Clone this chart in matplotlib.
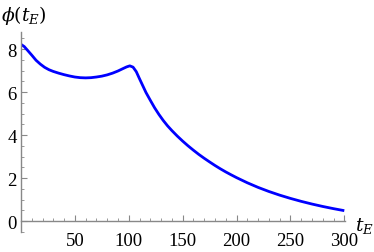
import matplotlib.pyplot as plt
from matplotlib.ticker import MultipleLocator

# values
t_E = [0, 3, 6, 10, 14, 18, 22, 26, 30, 35, 40, 45, 50, 55, 60, 65, 70, 75, 80,
       85, 90, 95, 98, 101, 104, 107, 110, 113, 116, 120, 124, 128, 132, 136,
       140, 145, 150, 155, 160, 165, 170, 175, 180, 185, 190, 195, 200, 210,
       220, 230, 240, 250, 260, 270, 280, 290, 300]
phi = [8.22, 8.12, 7.95, 7.72, 7.48, 7.3, 7.15, 7.04, 6.96, 6.88, 6.81, 6.75,
       6.7, 6.67, 6.66, 6.67, 6.7, 6.74, 6.8, 6.88, 6.98, 7.1, 7.17, 7.22,
       7.16, 6.95, 6.62, 6.3, 5.98, 5.62, 5.27, 4.96, 4.68, 4.43, 4.21, 3.955,
       3.72, 3.5, 3.295, 3.1, 2.92, 2.75, 2.585, 2.43, 2.285, 2.15, 2.02, 1.78,
       1.565, 1.375, 1.205, 1.053, 0.915, 0.79, 0.677, 0.575, 0.482]
x_ticks = [50, 100, 150, 200, 250, 300]
y_ticks = [0, 2, 4, 6, 8]

plt.rcParams['font.family'] = 'Liberation Serif'
plt.rcParams['mathtext.fontset'] = 'dejavuserif'

fig = plt.figure(figsize=(3.74, 2.53), dpi=100)
ax = fig.add_axes([0.056, 0.080, 0.866, 0.790])

ax.plot(t_E, phi, color=(0, 0, 1), lw=2.0, solid_capstyle='butt')

ax.set_xlim(0, 300.5)
ax.set_ylim(-0.5, 8.8)

for s in ['top', 'right']:
    ax.spines[s].set_visible(False)
ax.spines['bottom'].set_position(('data', 0))
ax.spines['left'].set_position(('data', 0))
for s in ['bottom', 'left']:
    ax.spines[s].set_color('#888888')
    ax.spines[s].set_linewidth(1.0)

ax.set_xticks(x_ticks)
ax.set_yticks(y_ticks)
ax.xaxis.set_minor_locator(MultipleLocator(10))
ax.yaxis.set_minor_locator(MultipleLocator(0.5))
ax.tick_params(axis='both', which='major', direction='in', length=4,
               width=0.8, color='#888888', labelsize=13.5, pad=3)
ax.tick_params(axis='both', which='minor', direction='in', length=2.2,
               width=0.6, color='#888888')
ax.tick_params(axis='x', pad=8)

fig.text(0.003, 0.94, r'$\phi(t_E)$', fontsize=13.5, va='center', ha='left')
fig.text(0.948, 0.105, r'$t_E$', fontsize=13.5, va='center', ha='left')

fig.savefig('out.png', dpi=100)
